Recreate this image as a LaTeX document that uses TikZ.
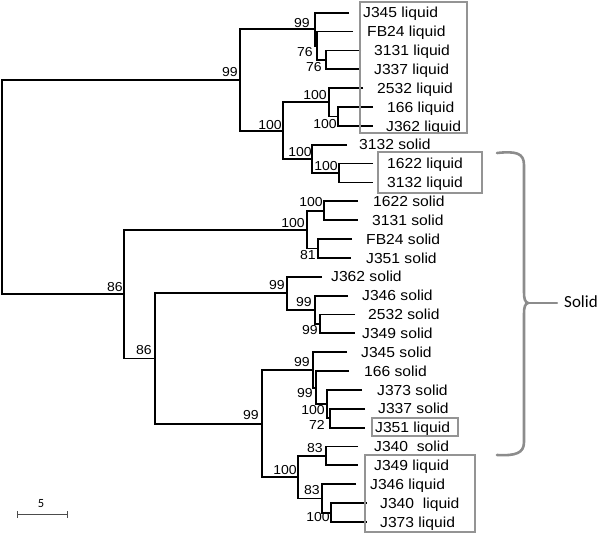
\documentclass[tikz,border=0pt]{standalone}
\usepackage{fontspec}
\setmainfont{Liberation Sans}[FakeStretch=1.08]
\newfontfamily\calfont{Carlito}
\begin{document}
\begin{tikzpicture}[x=1pt,y=-1pt,
  tree/.style={line width=1.8pt, line join=miter},
  leaf/.style={anchor=base west, inner sep=0pt, font=\fontsize{14.5}{16}\selectfont, yshift=-5.2pt},
  bs/.style={anchor=base east, inner sep=0pt, font=\fontsize{13}{15}\selectfont, yshift=-4.6pt},
  boxl/.style={draw=black!42, line width=1.6pt},
  bracel/.style={draw=black!45, line width=2.6pt, line cap=round}]
\useasboundingbox (0,0) rectangle (600,533);
% leaf ends
\coordinate (e1) at (349,12.7);
\coordinate (e2) at (353,31.56);
\coordinate (e3) at (361,50.42);
\coordinate (e4) at (361,69.28);
\coordinate (e5) at (363,88.14);
\coordinate (e6) at (373,107.0);
\coordinate (e7) at (373,125.86);
\coordinate (e8) at (347,144.72);
\coordinate (e9) at (373,163.58);
\coordinate (e10) at (373,182.44);
\coordinate (e11) at (358,201.3);
\coordinate (e12) at (358,220.16);
\coordinate (e13) at (352,239.02);
\coordinate (e14) at (351,257.88);
\coordinate (e15) at (322,276.74);
\coordinate (e16) at (348,295.6);
\coordinate (e17) at (355,314.46);
\coordinate (e18) at (355,333.32);
\coordinate (e19) at (347,352.18);
\coordinate (e20) at (349,371.04);
\coordinate (e21) at (362,389.9);
\coordinate (e22) at (365,408.76);
\coordinate (e23) at (365,427.62);
\coordinate (e24) at (358,446.48);
\coordinate (e25) at (358,465.34);
\coordinate (e26) at (356,484.2);
\coordinate (e27) at (367,503.06);
\coordinate (e28) at (367,521.92);
% leaf labels
\node[leaf] (t1) at (363,12.7) {J345 liquid};
\node[leaf] (t2) at (367,31.56) {FB24 liquid};
\node[leaf] (t3) at (374,50.42) {3131 liquid};
\node[leaf] (t4) at (374,69.28) {J337 liquid};
\node[leaf] (t5) at (377,88.14) {2532 liquid};
\node[leaf] (t6) at (387,107.0) {166 liquid};
\node[leaf] (t7) at (386,125.86) {J362 liquid};
\node[leaf] (t8) at (359,144.72) {3132 solid};
\node[leaf] (t9) at (387,163.58) {1622 liquid};
\node[leaf] (t10) at (387,182.44) {3132 liquid};
\node[leaf] (t11) at (373,201.3) {1622 solid};
\node[leaf] (t12) at (372,220.16) {3131 solid};
\node[leaf] (t13) at (366,239.02) {FB24 solid};
\node[leaf] (t14) at (366,257.88) {J351 solid};
\node[leaf] (t15) at (331,276.74) {J362 solid};
\node[leaf] (t16) at (362,295.6) {J346 solid};
\node[leaf] (t17) at (368,314.46) {2532 solid};
\node[leaf] (t18) at (362,333.32) {J349 solid};
\node[leaf] (t19) at (361,352.18) {J345 solid};
\node[leaf] (t20) at (364,371.04) {166 solid};
\node[leaf] (t21) at (377,389.9) {J373 solid};
\node[leaf] (t22) at (378,408.76) {J337 solid};
\node[leaf] (t23) at (375,427.62) {J351 liquid};
\node[leaf] (t24) at (374,446.48) {J340\ \ solid};
\node[leaf] (t25) at (374,465.34) {J349 liquid};
\node[leaf] (t26) at (370,484.2) {J346 liquid};
\node[leaf] (t27) at (380,503.06) {J340\ \ liquid};
\node[leaf] (t28) at (380,521.92) {J373 liquid};
% internal nodes
\coordinate (n3) at (326,59.9);
\coordinate (n2) at (317,45.8);
\coordinate (n1) at (315,29.2);
\coordinate (n7) at (338,116.5);
\coordinate (n5) at (329,102.3);
\coordinate (n8) at (339,173);
\coordinate (n6) at (312,158.9);
\coordinate (n4) at (283,130.6);
\coordinate (A) at (240,79.9);
\coordinate (n10) at (324,210.8);
\coordinate (n11) at (318,248.5);
\coordinate (n9) at (307,229.7);
\coordinate (n13) at (320,324);
\coordinate (n12) at (315,309.8);
\coordinate (R) at (287,293.3);
\coordinate (W) at (330,418.3);
\coordinate (V) at (327,404.2);
\coordinate (U) at (316,387.6);
\coordinate (T) at (313,370);
\coordinate (Y) at (326,456);
\coordinate (AA) at (331,512.6);
\coordinate (Z) at (322,498.5);
\coordinate (X) at (298,477.2);
\coordinate (S) at (262,423.6);
\coordinate (Q) at (155,358.5);
\coordinate (P) at (124,294.1);
\coordinate (root) at (2,187);
% branches
\draw[tree] (e3) -| (n3) |- (e4);
\draw[tree] (e2) -| (n2) |- (n3);
\draw[tree] (e1) -| (n1) |- (n2);
\draw[tree] (e6) -| (n7) |- (e7);
\draw[tree] (e5) -| (n5) |- (n7);
\draw[tree] (e9) -| (n8) |- (e10);
\draw[tree] (e8) -| (n6) |- (n8);
\draw[tree] (n5) -| (n4) |- (n6);
\draw[tree] (n1) -| (A) |- (n4);
\draw[tree] (e11) -| (n10) |- (e12);
\draw[tree] (e13) -| (n11) |- (e14);
\draw[tree] (n10) -| (n9) |- (n11);
\draw[tree] (e17) -| (n13) |- (e18);
\draw[tree] (e16) -| (n12) |- (n13);
\draw[tree] (e15) -| (R) |- (n12);
\draw[tree] (e22) -| (W) |- (e23);
\draw[tree] (e21) -| (V) |- (W);
\draw[tree] (e20) -| (U) |- (V);
\draw[tree] (e19) -| (T) |- (U);
\draw[tree] (e24) -| (Y) |- (e25);
\draw[tree] (e27) -| (AA) |- (e28);
\draw[tree] (e26) -| (Z) |- (AA);
\draw[tree] (Y) -| (X) |- (Z);
\draw[tree] (T) -| (S) |- (X);
\draw[tree] (R) -| (Q) |- (S);
\draw[tree] (n9) -| (P) |- (Q);
\draw[tree] (A) -| (root) |- (P);
% bootstrap values
\node[bs] (bA) at (238,72) {99};
\node[bs] (b1) at (310,22.7) {99};
\node[bs] (b2) at (313,51.7) {76};
\node[bs] (b3) at (322,66.7) {76};
\node[bs] (b4) at (282,125) {100};
\node[bs] (b5) at (327,95) {100};
\node[bs] (b7) at (337,124) {100};
\node[bs] (b6) at (312,151.7) {100};
\node[bs] (b8) at (338,166) {100};
\node[bs] (b10) at (323,201.7) {100};
\node[bs] (b9) at (305,223) {100};
\node[bs] (b11) at (316,255) {81};
\node[bs] (bP) at (123,287) {86};
\node[bs] (bQ) at (152,350) {86};
\node[bs] (bR) at (285,285) {99};
\node[bs] (b12) at (312,302) {99};
\node[bs] (b13) at (318,330) {99};
\node[bs] (bS) at (259,415) {99};
\node[bs] (bT) at (310,362) {99};
\node[bs] (bU) at (313,393) {99};
\node[bs] (bV) at (325,410) {100};
\node[bs] (bW) at (325,425) {72};
\node[bs] (bY) at (323,448) {83};
\node[bs] (bX) at (297,470) {100};
\node[bs] (bZ) at (320,490) {83};
\node[bs] (bAA) at (330,517) {100};
% boxes
\draw[boxl] (360,2) rectangle (467,133);
\draw[boxl] (378,152) rectangle (482,193);
\draw[boxl] (372,418) rectangle (458,436);
\draw[boxl] (365,455) rectangle (475,532);
% brace
\coordinate (bt) at (497,153);
\coordinate (bm) at (528,303);
\coordinate (bb) at (497,455);
\coordinate (bl) at (557,303);
\draw[bracel] (bt) .. controls (516,151) and (524,153) .. (524,165)
  -- (524,292) .. controls (524,299) and (525,302) .. (bm)
  .. controls (525,304) and (524,307) .. (524,314)
  -- (524,442) .. controls (524,453) and (516,456) .. (bb);
\draw[bracel, line width=2.2pt] (bm) -- (bl);
\node[anchor=west, inner sep=0pt, font=\calfont\fontsize{17}{19}\selectfont] (solid) at (564,302) {Solid};
% scale bar
\coordinate (s1) at (17,514.5);
\coordinate (s2) at (67,514.5);
\draw[black!70, line width=1pt] (s1) -- (s2);
\draw[black!70, line width=1pt] ([yshift=3.5pt]s1) -- ([yshift=-3.5pt]s1);
\draw[black!70, line width=1pt] ([yshift=3.5pt]s2) -- ([yshift=-3.5pt]s2);
\node[inner sep=0pt, font=\calfont\fontsize{12.5}{14}\selectfont] (five) at (41,504) {5};
\end{tikzpicture}
\end{document}
